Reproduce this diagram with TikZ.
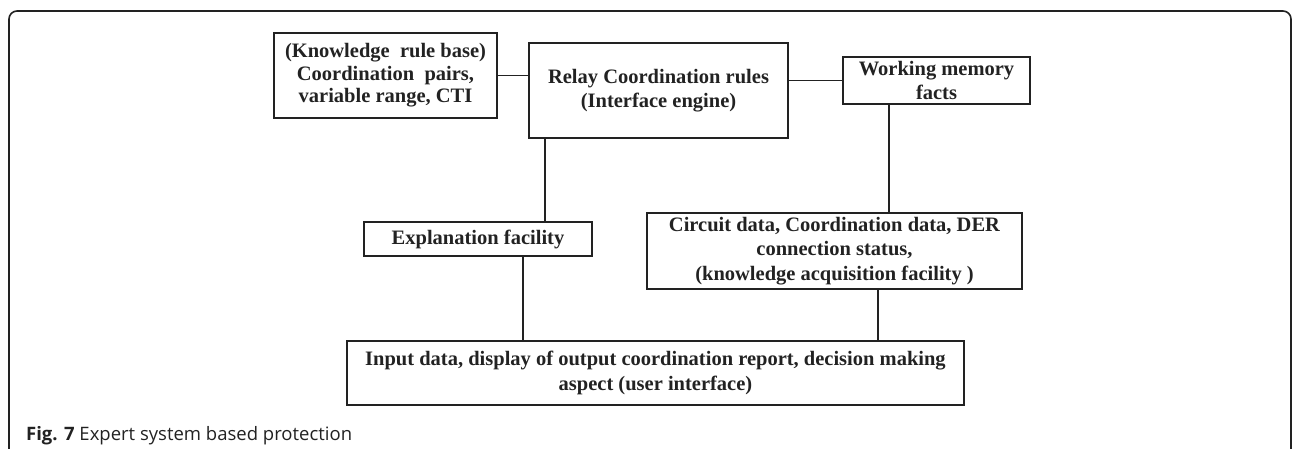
\documentclass[tikz,border=0pt]{standalone}
\usepackage{fontspec}
\setmainfont{Liberation Serif}
\newfontfamily\capfont{Open Sans}
\definecolor{ink}{HTML}{222222}
\tikzset{
  blockbox/.style={draw=ink, line width=1.8pt, inner sep=0pt, align=center,
    text=ink, font=\fontsize{20.5}{24.5}\selectfont\bfseries},
  link/.style={draw=ink, line width=1.8pt}
}
\begin{document}
\begin{tikzpicture}[x=1pt, y=-1pt]
  \useasboundingbox (0,0) rectangle (1292,449);
  % outer frame, open at the bottom
  \draw[ink, line width=1.6pt, rounded corners=8pt] (9,452) -- (9,11) -- (1291,11) -- (1291,452);

  % blocks
  \node[blockbox, minimum width=223pt, minimum height=85pt,
        font=\fontsize{20.5}{22.5}\selectfont\bfseries] (kb) at (385.5,75.5)
    {(Knowledge\ \ rule base)\\Coordination\ \ pairs,\\variable range, CTI};
  \node[blockbox, minimum width=259pt, minimum height=95pt] (relay) at (658.5,90.5)
    {Relay Coordination rules\\(Interface engine)};
  \node[blockbox, minimum width=187pt, minimum height=47pt] (wm) at (936.5,80.5)
    {Working memory\\facts};
  \node[blockbox, minimum width=228pt, minimum height=34pt] (expl) at (478,239)
    {Explanation facility};
  \node[blockbox, minimum width=375pt, minimum height=76pt] (circ) at (834.5,251)
    {Circuit data, Coordination data, DER\\connection status,\\(knowledge acquisition facility )};
  \node[blockbox, minimum width=617pt, minimum height=64pt] (ui) at (655.5,373)
    {Input data, display of output coordination report, decision making\\aspect (user interface)};

  % drop points of the vertical links
  \coordinate (d1) at (545,0);
  \coordinate (d2) at (889,0);
  \coordinate (d3) at (523,0);
  \coordinate (d4) at (878,0);

  % links
  \draw[link] (kb.east) -- (kb.east -| relay.west);
  \draw[link] (wm.west -| relay.east) -- (wm.west);
  \draw[link] (d1 |- relay.south) -- (d1 |- expl.north);
  \draw[link] (d2 |- wm.south) -- (d2 |- circ.north);
  \draw[link] (d3 |- expl.south) -- (d3 |- ui.north);
  \draw[link] (d4 |- circ.south) -- (d4 |- ui.north);

  % caption
  \node[anchor=base west, inner sep=0pt, text=ink, font=\capfont\fontsize{18.5}{20}\selectfont] (cap) at (26,440)
    {\textbf{Fig. 7} Expert system based protection};
\end{tikzpicture}
\end{document}
